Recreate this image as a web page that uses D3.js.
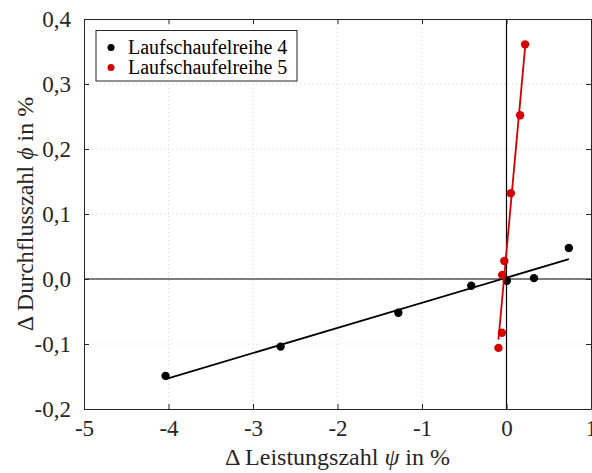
<!DOCTYPE html>
<html>
<head>
<meta charset="utf-8">
<script src="https://cdn.jsdelivr.net/npm/d3@7"></script>
<style>
body { margin: 0; background: #fff; }
svg text { font-family: "Liberation Serif", "Times New Roman", serif; fill: #262626; }
</style>
</head>
<body>
<script>
var w = 592;
var h = 473;
var margin = {left: 84, right: 1, top: 19, bottom: 64};

// Laufschaufelreihe 4 (black)
var psi4 = [-4.035, -2.673, -1.28, -0.417, 0.004, 0.325, 0.738];
var phi4 = [-0.149, -0.104, -0.052, -0.0103, -0.0028, 0.0013, 0.0477];
// Laufschaufelreihe 5 (red)
var psi5 = [-0.095, -0.054, -0.051, -0.026, 0.051, 0.161, 0.220];
var phi5 = [-0.106, -0.0826, 0.0062, 0.0277, 0.132, 0.252, 0.361];

var seriesNames = ["Laufschaufelreihe 4", "Laufschaufelreihe 5"];
var seriesColors = ["#000000", "#d40000"];

var xTicks = [-5, -4, -3, -2, -1, 0, 1];
var yTicks = [-0.2, -0.1, 0, 0.1, 0.2, 0.3, 0.4];

var xScale = d3.scaleLinear()
    .domain([-5, 1])
    .range([margin.left, w - margin.right]);
var yScale = d3.scaleLinear()
    .domain([-0.2, 0.4])
    .range([h - margin.bottom, margin.top]);

var svg = d3.select("body")
    .append("svg")
    .attr("width", w)
    .attr("height", h);

// dotted grid
svg.append("g")
    .selectAll("line")
    .data(xTicks.slice(1, -1))
    .enter()
    .append("line")
    .attr("x1", function(d){ return xScale(d); })
    .attr("x2", function(d){ return xScale(d); })
    .attr("y1", yScale(-0.2))
    .attr("y2", yScale(0.4))
    .attr("stroke", "#d9d9d9")
    .attr("stroke-dasharray", "1,3");
svg.append("g")
    .selectAll("line")
    .data(yTicks.slice(1, -1))
    .enter()
    .append("line")
    .attr("y1", function(d){ return yScale(d); })
    .attr("y2", function(d){ return yScale(d); })
    .attr("x1", xScale(-5))
    .attr("x2", xScale(1))
    .attr("stroke", "#d9d9d9")
    .attr("stroke-dasharray", "1,3");

// zero lines
svg.append("line")
    .attr("x1", xScale(-5)).attr("x2", xScale(1))
    .attr("y1", yScale(0)).attr("y2", yScale(0))
    .attr("stroke", "#000").attr("stroke-width", 1.2);
svg.append("line")
    .attr("x1", xScale(0)).attr("x2", xScale(0))
    .attr("y1", yScale(-0.2)).attr("y2", yScale(0.4))
    .attr("stroke", "#000").attr("stroke-width", 1.2);

// axes, ticks inside on all four sides
var fmt = function(d){ return d3.format(".1f")(d).replace(".", ",").replace("\u2212", "-"); };
var xAxis = d3.axisBottom(xScale).tickValues(xTicks).tickSizeInner(-5).tickSizeOuter(0)
    .tickPadding(11).tickFormat(function(d){ return String(d); });
var yAxis = d3.axisLeft(yScale).tickValues(yTicks).tickSizeInner(-5).tickSizeOuter(0)
    .tickPadding(13).tickFormat(fmt);
var xTop = d3.axisTop(xScale).tickValues(xTicks).tickSizeInner(-5).tickSizeOuter(0).tickFormat("");
var yRight = d3.axisRight(yScale).tickValues(yTicks).tickSizeInner(-5).tickSizeOuter(0).tickFormat("");

svg.append("g")
    .attr("class", "axis")
    .attr("transform", "translate(0," + yScale(-0.2) + ")")
    .call(xAxis);
svg.append("g")
    .attr("class", "axis")
    .attr("transform", "translate(" + xScale(-5) + ",0)")
    .call(yAxis);
svg.append("g")
    .attr("class", "axis")
    .attr("transform", "translate(0," + yScale(0.4) + ")")
    .call(xTop);
svg.append("g")
    .attr("class", "axis")
    .attr("transform", "translate(" + xScale(1) + ",0)")
    .call(yRight);

svg.selectAll(".axis path").attr("stroke", "#262626").attr("stroke-width", 1);
svg.selectAll(".axis line").attr("stroke", "#262626");
svg.selectAll(".axis text")
    .style("font-family", "'Liberation Serif', serif")
    .style("font-size", "23px")
    .style("fill", "#262626");

// least squares fit line for each series
function fitLine(xs, ys){
    var mx = d3.mean(xs), my = d3.mean(ys);
    var sxy = d3.sum(xs, function(x, i){ return (x - mx) * (ys[i] - my); });
    var sxx = d3.sum(xs, function(x){ return (x - mx) * (x - mx); });
    var k = sxy / sxx;
    var x0 = d3.min(xs), x1 = d3.max(xs);
    return [[x0, my + k * (x0 - mx)], [x1, my + k * (x1 - mx)]];
}

var series = [[psi4, phi4], [psi5, phi5]];
var line = d3.line()
    .x(function(d){ return xScale(d[0]); })
    .y(function(d){ return yScale(d[1]); });

series.forEach(function(s, k){
    svg.append("path")
        .datum(fitLine(s[0], s[1]))
        .attr("d", line)
        .attr("fill", "none")
        .attr("stroke", seriesColors[k])
        .attr("stroke-width", 1.8);
    svg.append("g")
        .selectAll("circle")
        .data(s[0])
        .enter()
        .append("circle")
        .attr("cx", function(d){ return xScale(d); })
        .attr("cy", function(d, i){ return yScale(s[1][i]); })
        .attr("r", 4.2)
        .attr("fill", seriesColors[k]);
});

// legend
var legend = svg.append("g");
legend.append("rect")
    .attr("x", 96).attr("y", 30.5)
    .attr("width", 201).attr("height", 50.5)
    .attr("fill", "#fff")
    .attr("stroke", "#262626");
seriesNames.forEach(function(name, k){
    legend.append("circle")
        .attr("cx", 111).attr("cy", 47.5 + k * 20)
        .attr("r", 3.5)
        .attr("fill", seriesColors[k]);
    legend.append("text")
        .attr("x", 128).attr("y", 54 + k * 20)
        .style("font-size", "20px")
        .style("fill", "#000")
        .text(name);
});

// axis labels
var xl = svg.append("text")
    .attr("x", (xScale(-5) + xScale(1)) / 2)
    .attr("y", 465)
    .attr("text-anchor", "middle")
    .style("font-size", "24px");
xl.append("tspan").text("\u0394 Leistungszahl ");
xl.append("tspan").style("font-style", "italic").text("\u03c8");
xl.append("tspan").text(" in %");

var yl = svg.append("text")
    .attr("transform", "translate(33," + (yScale(-0.2) + yScale(0.4)) / 2 + ") rotate(-90)")
    .attr("text-anchor", "middle")
    .style("font-size", "24px");
yl.append("tspan").text("\u0394 Durchflusszahl ");
yl.append("tspan").style("font-style", "italic").text("\u03d5");
yl.append("tspan").text(" in %");
</script>
</body>
</html>
